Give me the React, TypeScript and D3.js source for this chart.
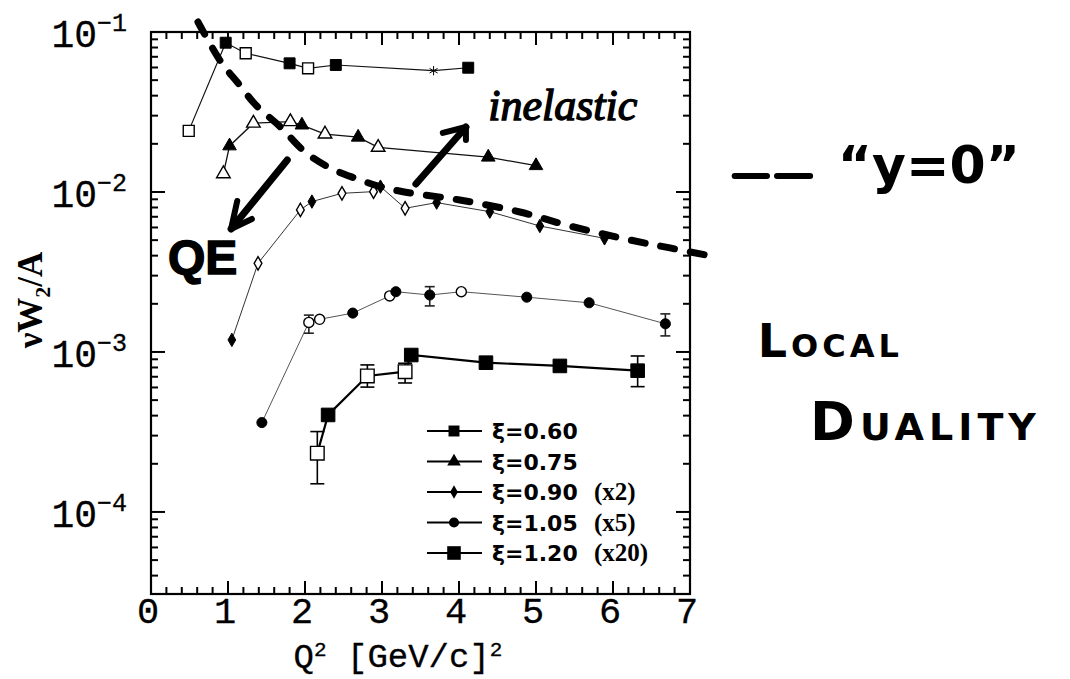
import { useEffect, useRef } from "react";
import * as d3 from "d3";

const W = 1070;
const H = 679;

// values: Q^2 [GeV/c]^2 and nuW2/A for each xi bin
// kind: which data set the point came from (drawn open / solid / star)

// xi = 0.60
const q2_060 = [0.49, 0.97, 1.23, 1.8, 2.04, 2.4, 3.67, 4.12];
const w_060 = [0.0241, 0.0857, 0.0736, 0.0637, 0.0593, 0.0622, 0.0573, 0.0598];
const kind_060 = ["open", "solid", "open", "solid", "open", "solid", "star", "solid"];

// xi = 0.75
const q2_075 = [0.94, 1.02, 1.33, 1.81, 1.96, 2.26, 2.69, 2.95, 4.38, 5.0];
const w_075 = [0.013, 0.0194, 0.0269, 0.0275, 0.0262, 0.023, 0.022, 0.019, 0.0165, 0.0146];
const kind_075 = ["open", "solid", "open", "open", "solid", "open", "solid", "open", "solid", "solid"];

// xi = 0.90 (x2)
const q2_090 = [1.05, 1.39, 1.94, 2.09, 2.48, 2.89, 2.98, 3.3, 3.71, 4.4, 5.05, 5.89];
const w_090 = [0.00119, 0.00358, 0.00772, 0.00871, 0.00981, 0.01005, 0.0108, 0.00791, 0.00858, 0.00753, 0.00613, 0.00513];
const kind_090 = ["solid", "open", "open", "solid", "open", "open", "solid", "open", "solid", "solid", "solid", "solid"];

// xi = 1.05 (x5)
const q2_105 = [1.44, 2.05, 2.19, 2.62, 3.1, 3.18, 3.62, 4.03, 4.88, 5.69, 6.68];
const w_105 = [0.000362, 0.00153, 0.0016, 0.00175, 0.00224, 0.00238, 0.00227, 0.00238, 0.0022, 0.00203, 0.0015];
const kind_105 = ["solid", "open", "open", "solid", "open", "solid", "solid", "open", "solid", "solid", "solid"];
const lo_105 = [null, 0.00131, null, null, null, null, 0.00194, null, null, null, 0.00126];
const hi_105 = [null, 0.0017, null, null, null, null, 0.00256, null, null, null, 0.00173];

// xi = 1.20 (x20)
const q2_120 = [2.16, 2.3, 2.81, 3.3, 3.38, 4.35, 5.31, 6.32];
const w_120 = [0.000233, 0.000404, 0.000708, 0.000753, 0.000957, 0.000857, 0.000818, 0.000764];
const kind_120 = ["open", "solid", "open", "open", "solid", "solid", "solid", "solid"];
const lo_120 = [0.00015, null, 0.000603, 0.00064, null, null, null, 0.000607];
const hi_120 = [0.000318, null, 0.00083, 0.00085, null, null, null, 0.000944];

const legendLabels = ["ξ=0.60", "ξ=0.75", "ξ=0.90", "ξ=1.05", "ξ=1.20"];
const legendFactors = ["", "", "(x2)", "(x5)", "(x20)"];

// axes
const xTicks = [0, 1, 2, 3, 4, 5, 6, 7];
const xTickLabels = ["0", "1", "2", "3", "4", "5", "6", "7"];
const yDecades = [1e-4, 1e-3, 1e-2, 1e-1];
const yTickExp = ["−4", "−3", "−2", "−1"];

// handwritten "y=0" curve, in the chart's own units
const y0_q2 = [0.61, 0.91, 1.13, 1.36, 1.68, 2.0, 2.33, 2.65, 2.95, 3.29, 4.01, 4.79, 5.44, 6.23, 6.74, 7.34];
const y0_w = [0.1155, 0.0649, 0.048, 0.035, 0.0255, 0.0178, 0.0141, 0.0122, 0.0109, 0.01, 0.00891, 0.0075, 0.00613, 0.005, 0.00447, 0.00392];

// handwritten arrows: [tail, tip, barb, barb]
const arrowInelastic = [[3.44, 0.01122], [4.09, 0.02547], [3.79, 0.02339], [4.09, 0.02113]];
const arrowQE = [[1.77, 0.01585], [1.04, 0.00587], [1.31, 0.00678], [1.12, 0.00879]];

function App() {
    const svgRef = useRef(null);

    useEffect(() => {
        const svg = d3.select(svgRef.current);
        svg.selectAll("*").remove();

        const left = 151;
        const right = 690;
        const top = 32;
        const bottom = 594;

        const x = d3.scaleLinear().domain([0, 7]).range([left, right]);
        const y = d3.scaleLog().domain([3.07e-5, 0.1]).range([bottom, top]);

        const mono = "'Liberation Mono', monospace";

        const series = [
            { q: q2_060, w: w_060, k: kind_060, shape: d3.symbolSquare, size: 120, lw: 1.2, color: "#111" },
            { q: q2_075, w: w_075, k: kind_075, shape: d3.symbolTriangle, size: 80, lw: 1.3, color: "#111" },
            { q: q2_090, w: w_090, k: kind_090, shape: d3.symbolDiamond, size: 52, lw: 1, color: "#333" },
            { q: q2_105, w: w_105, k: kind_105, shape: d3.symbolCircle, size: 80, lw: 1, color: "#555", lo: lo_105, hi: hi_105, cap: 10 },
            { q: q2_120, w: w_120, k: kind_120, shape: d3.symbolSquare, size: 185, lw: 2.2, color: "#000", lo: lo_120, hi: hi_120, cap: 14 },
        ];

        // frame
        svg.append("rect")
            .attr("x", left)
            .attr("y", top)
            .attr("width", right - left)
            .attr("height", bottom - top)
            .attr("fill", "none")
            .attr("stroke", "#000")
            .attr("stroke-width", 2.2);

        const ticks = svg.append("g").attr("stroke", "#000").attr("stroke-width", 2);

        // x ticks, bottom and top, pointing in
        const xMinor = d3.range(0, 7.001, 0.2);
        xMinor.forEach((v) => {
            const major = Math.abs(v - Math.round(v)) < 1e-6;
            const len = major ? 13 : 7;
            ticks.append("line").attr("x1", x(v)).attr("x2", x(v)).attr("y1", bottom).attr("y2", bottom - len);
            ticks.append("line").attr("x1", x(v)).attr("x2", x(v)).attr("y1", top).attr("y2", top + len);
        });

        // y ticks, left and right
        yDecades.concat([1e-5]).forEach((d) => {
            for (let m = 1; m <= 9; m++) {
                const v = d * m;
                if (v < y.domain()[0] || v > y.domain()[1] * 1.0001) continue;
                const len = m === 1 ? 14 : 7;
                ticks.append("line").attr("x1", left).attr("x2", left + len).attr("y1", y(v)).attr("y2", y(v));
                ticks.append("line").attr("x1", right).attr("x2", right - len).attr("y1", y(v)).attr("y2", y(v));
            }
        });

        // tick labels
        svg.append("g")
            .selectAll("text")
            .data(xTicks)
            .join("text")
            .attr("x", (d) => x(d) - 3)
            .attr("y", 623)
            .attr("text-anchor", "middle")
            .attr("font-family", mono)
            .attr("font-size", 37)
            .attr("stroke", "#000")
            .attr("stroke-width", 0.3)
            .text((d, i) => xTickLabels[i]);

        const yl = svg.append("g")
            .selectAll("text")
            .data(yDecades)
            .join("text")
            .attr("x", 127)
            .attr("y", (d) => y(d) + 15)
            .attr("text-anchor", "end")
            .attr("font-family", mono)
            .attr("font-size", 38)
            .attr("stroke", "#000")
            .attr("stroke-width", 0.3);
        yl.append("tspan").text("10");
        yl.append("tspan")
            .attr("dy", -16)
            .attr("font-size", 25)
            .text((d, i) => yTickExp[i]);

        // axis titles
        const xt = svg.append("text")
            .attr("x", 398)
            .attr("y", 667)
            .attr("text-anchor", "middle")
            .attr("font-family", mono)
            .attr("font-size", 34)
            .attr("stroke", "#000")
            .attr("stroke-width", 0.3);
        xt.append("tspan").text("Q");
        xt.append("tspan").attr("font-size", 21).attr("dy", -11).text("2");
        xt.append("tspan").attr("dy", 11).text(" [GeV/c]");
        xt.append("tspan").attr("font-size", 21).attr("dy", -11).text("2");

        const ytl = svg.append("text")
            .attr("transform", "translate(42, 300) rotate(-90)")
            .attr("text-anchor", "middle")
            .attr("font-family", "'Liberation Serif', serif")
            .attr("font-weight", "bold")
            .attr("font-size", 35);
        ytl.append("tspan").text("νW");
        ytl.append("tspan").attr("font-size", 22).attr("dy", 8).text("2");
        ytl.append("tspan").attr("dy", -8).text("/A");

        // data lines
        const line = d3.line()
            .x((d) => x(d[0]))
            .y((d) => y(d[1]));

        series.forEach((s) => {
            const pts = s.q.map((q, i) => [q, s.w[i]]);
            svg.append("path")
                .attr("d", line(pts))
                .attr("fill", "none")
                .attr("stroke", s.color)
                .attr("stroke-width", s.lw);
        });

        // error bars
        series.forEach((s) => {
            if (!s.lo) return;
            const g = svg.append("g").attr("stroke", s.color === "#555" ? "#222" : "#000").attr("stroke-width", 1.6);
            s.q.forEach((q, i) => {
                if (s.lo[i] == null) return;
                const cx = x(q);
                g.append("line").attr("x1", cx).attr("x2", cx).attr("y1", y(s.lo[i])).attr("y2", y(s.hi[i]));
                [s.lo[i], s.hi[i]].forEach((v) => {
                    g.append("line")
                        .attr("x1", cx - s.cap / 2)
                        .attr("x2", cx + s.cap / 2)
                        .attr("y1", y(v))
                        .attr("y2", y(v));
                });
            });
        });

        // markers
        series.forEach((s) => {
            s.q.forEach((q, i) => {
                const kind = s.k[i];
                const sym = d3.symbol()
                    .type(kind === "star" ? d3.symbolAsterisk : s.shape)
                    .size(kind === "star" ? 60 : s.size);
                svg.append("path")
                    .attr("d", sym())
                    .attr("transform", "translate(" + x(q) + "," + y(s.w[i]) + ")")
                    .attr("fill", kind === "open" ? "#fff" : kind === "star" ? "none" : "#000")
                    .attr("stroke", "#000")
                    .attr("stroke-width", kind === "open" ? 1.4 : 1);
            });
        });

        // legend
        const lg = svg.append("g");
        series.forEach((s, i) => {
            const ly = 431 + i * 30.5;
            lg.append("line")
                .attr("x1", 427)
                .attr("x2", 482)
                .attr("y1", ly)
                .attr("y2", ly)
                .attr("stroke", "#000")
                .attr("stroke-width", 1.8);
            lg.append("path")
                .attr("d", d3.symbol().type(s.shape).size(s.size)())
                .attr("transform", "translate(454," + ly + ")")
                .attr("fill", "#000");
            lg.append("text")
                .attr("x", 492)
                .attr("y", ly + 8)
                .attr("font-family", "'DejaVu Sans', sans-serif")
                .attr("font-weight", "bold")
                .attr("font-size", 22)
                .text(legendLabels[i]);
            lg.append("text")
                .attr("x", 594)
                .attr("y", ly + 8)
                .attr("font-family", "'Liberation Serif', serif")
                .attr("font-weight", "bold")
                .attr("font-size", 25)
                .text(legendFactors[i]);
        });

        // handwritten notes on top
        const hand = svg.append("g")
            .attr("fill", "none")
            .attr("stroke", "#000")
            .attr("stroke-linecap", "round")
            .attr("stroke-linejoin", "round");

        const y0pts = y0_q2.map((q, i) => [q, y0_w[i]]);
        hand.append("path")
            .attr("d", line.curve(d3.curveCatmullRom)(y0pts))
            .attr("stroke-width", 7)
            .attr("stroke-dasharray", "14 16");
        line.curve(d3.curveLinear);

        [arrowInelastic, arrowQE].forEach((a) => {
            const p = a.map((d) => [x(d[0]), y(d[1])]);
            hand.append("line").attr("x1", p[0][0]).attr("y1", p[0][1]).attr("x2", p[1][0]).attr("y2", p[1][1]).attr("stroke-width", 7);
            hand.append("polyline")
                .attr("points", [p[2], p[1], p[3]].map((d) => d.join(",")).join(" "))
                .attr("stroke-width", 6);
        });

        // the "--" key next to "y=0"
        [[7.58, 8.0], [8.13, 8.56]].forEach((d) => {
            hand.append("line")
                .attr("x1", x(d[0]))
                .attr("x2", x(d[1]))
                .attr("y1", y(0.01259))
                .attr("y2", y(0.01259))
                .attr("stroke-width", 6);
        });

        const note = (q, w, txt, font, size, extra) => {
            const t = svg.append("text")
                .attr("x", x(q))
                .attr("y", y(w))
                .attr("font-family", font)
                .attr("font-size", size)
                .attr("fill", "#000")
                .text(txt);
            if (extra) extra(t);
            return t;
        };

        note(4.38, 0.0282, "inelastic", "'Liberation Serif', serif", 44, (t) =>
            t.attr("font-style", "italic").attr("stroke", "#000").attr("stroke-width", 1.4)
        );
        note(0.22, 0.00307, "QE", "'Liberation Sans', sans-serif", 48, (t) =>
            t.attr("font-weight", "bold").attr("stroke", "#000").attr("stroke-width", 1.5)
        );
        note(8.92, 0.01138, "\u201Cy=0\u201D", "'DejaVu Sans', sans-serif", 52, (t) =>
            t.attr("font-weight", "bold")
        );
        note(7.88, 0.000931, "Local", "'DejaVu Sans', sans-serif", 46, (t) =>
            t.attr("font-weight", "bold").attr("font-variant", "small-caps").attr("letter-spacing", 4)
        );
        note(8.56, 0.000282, "Duality", "'DejaVu Sans', sans-serif", 54, (t) =>
            t.attr("font-weight", "bold").attr("font-variant", "small-caps").attr("letter-spacing", 5)
        );
    }, []);

    return (
        <svg
            ref={svgRef}
            width={W}
            height={H}
            style={{ position: "absolute", left: 0, top: 0, background: "#fff" }}
        ></svg>
    );
}

export default App;
